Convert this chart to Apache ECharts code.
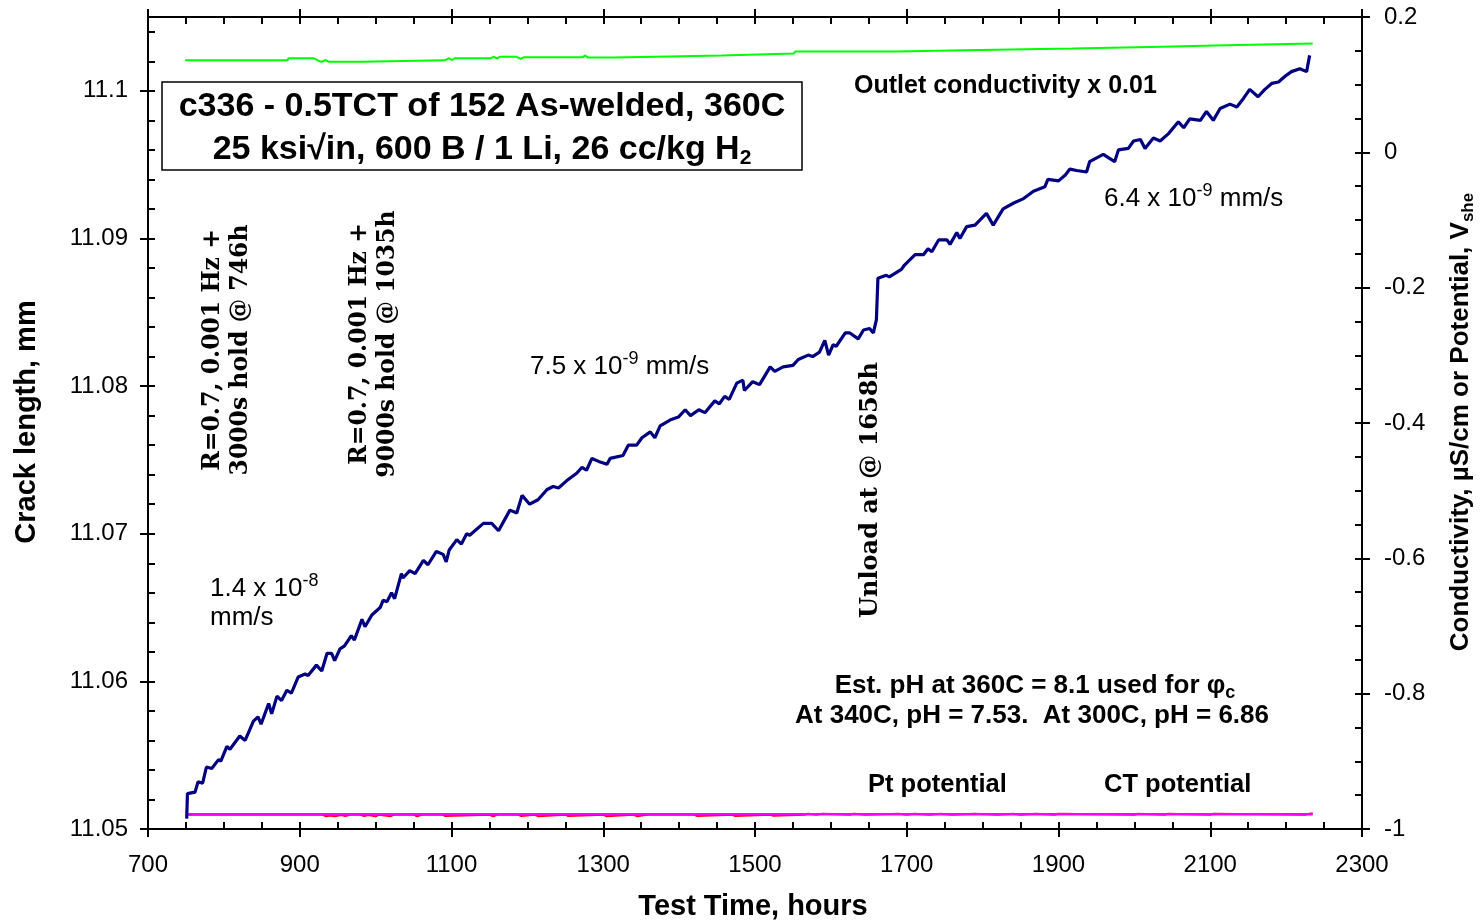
<!DOCTYPE html>
<html><head><meta charset="utf-8">
<script src="https://cdn.jsdelivr.net/npm/echarts@6/dist/echarts.min.js"></script>
<style>html,body{margin:0;padding:0;background:#fff}#c{width:1480px;height:924px}</style>
</head><body><div id="c"></div>
<script>
// ---- data ----
const crackHours = [751,752,762,766,772,777,784,793,796,804,808,821,828,839,845,849,859,863,870,876,883,889,898,907,911,922,929,936,942,946,953,959,968,972,982,986,995,1006,1010,1015,1021,1025,1034,1036,1045,1052,1063,1069,1080,1089,1093,1097,1107,1113,1120,1124,1142,1153,1162,1177,1186,1193,1203,1214,1226,1234,1241,1252,1265,1272,1278,1285,1294,1305,1309,1326,1333,1344,1351,1362,1368,1375,1388,1399,1408,1415,1426,1434,1447,1453,1460,1466,1476,1484,1486,1497,1506,1520,1526,1537,1550,1557,1570,1576,1585,1592,1597,1603,1607,1619,1625,1636,1643,1651,1656,1660,1662,1673,1677,1693,1697,1711,1722,1728,1733,1742,1753,1757,1766,1770,1779,1790,1805,1814,1827,1841,1854,1867,1882,1886,1900,1909,1915,1924,1937,1941,1959,1974,1979,1992,1999,2008,2014,2025,2034,2045,2058,2065,2073,2087,2095,2104,2113,2126,2135,2144,2152,2163,2172,2181,2190,2199,2207,2218,2227,2231];
const crackMm = [11.0507,11.0524,11.0525,11.0532,11.0531,11.0542,11.0541,11.0547,11.0546,11.0556,11.0554,11.0563,11.0560,11.0573,11.0576,11.0571,11.0585,11.0578,11.0590,11.0587,11.0594,11.0592,11.0603,11.0605,11.0604,11.0611,11.0607,11.0619,11.0619,11.0614,11.0622,11.0624,11.0631,11.0628,11.0642,11.0637,11.0645,11.0650,11.0655,11.0654,11.0660,11.0656,11.0673,11.0670,11.0675,11.0673,11.0682,11.0679,11.0688,11.0686,11.0681,11.0689,11.0696,11.0693,11.0700,11.0699,11.0707,11.0707,11.0702,11.0716,11.0714,11.0726,11.0720,11.0723,11.0730,11.0732,11.0731,11.0736,11.0741,11.0745,11.0743,11.0751,11.0749,11.0747,11.0751,11.0753,11.0760,11.0760,11.0765,11.0769,11.0765,11.0773,11.0777,11.0779,11.0784,11.0780,11.0784,11.0782,11.0790,11.0788,11.0793,11.0791,11.0802,11.0804,11.0797,11.0803,11.0801,11.0813,11.0810,11.0813,11.0814,11.0818,11.0821,11.0820,11.0823,11.0831,11.0821,11.0828,11.0827,11.0836,11.0836,11.0832,11.0838,11.0839,11.0836,11.0845,11.0873,11.0875,11.0874,11.0879,11.0882,11.0889,11.0889,11.0893,11.0891,11.0899,11.0899,11.0896,11.0904,11.0900,11.0908,11.0909,11.0917,11.0909,11.0920,11.0924,11.0927,11.0932,11.0935,11.0940,11.0939,11.0943,11.0947,11.0946,11.0945,11.0952,11.0957,11.0952,11.0960,11.0961,11.0966,11.0967,11.0961,11.0968,11.0966,11.0971,11.0979,11.0975,11.0981,11.0980,11.0986,11.0980,11.0988,11.0991,11.0989,11.0995,11.1001,11.0996,11.1001,11.1005,11.1006,11.1010,11.1013,11.1015,11.1013,11.1024];

const condHours = [749,884,885,919,925,929,934,938,982,983,1091,1097,1101,1104,1152,1155,1160,1164,1185,1191,1196,1273,1276,1280,1286,1315,1317,1456,1458,1551,1553,1594,1596,1598,1686,1688,1777,1779,1918,1920,2021,2023,2121,2123,2235];
const condVal = [0.1360,0.1360,0.1390,0.1390,0.1350,0.1339,0.1364,0.1339,0.1339,0.1360,0.1360,0.1390,0.1364,0.1390,0.1390,0.1413,0.1390,0.1413,0.1413,0.1380,0.1407,0.1407,0.1432,0.1400,0.1403,0.1403,0.1431,0.1431,0.1459,0.1459,0.1489,0.1489,0.1470,0.1489,0.1489,0.1510,0.1510,0.1533,0.1533,0.1557,0.1557,0.1583,0.1583,0.1607,0.1607];

const ptHours = [750,1000,1250,1500,1750,2000,2235];
const ptVal = [-0.9783,-0.9783,-0.9783,-0.9783,-0.9783,-0.9783,-0.9783];

const ctHours = [750,870,872,875,930,935,940,946,955,960,966,980,985,990,1000,1004,1020,1024,1050,1055,1060,1088,1092,1150,1155,1160,1188,1192,1210,1214,1250,1254,1300,1304,1340,1345,1355,1360,1420,1424,1470,1474,1520,1524,1565,1570,1580,1590,1625,1630,1645,1690,1700,1710,1730,1745,1760,1790,1820,1840,1850,1870,1895,1900,2000,2004,2040,2044,2100,2104,2225,2232,2235];
const ctVal = [-0.9790,-0.9790,-0.9808,-0.9790,-0.9790,-0.9812,-0.9800,-0.9812,-0.9795,-0.9810,-0.9790,-0.9790,-0.9810,-0.9795,-0.9812,-0.9790,-0.9810,-0.9790,-0.9790,-0.9812,-0.9790,-0.9790,-0.9808,-0.9790,-0.9812,-0.9790,-0.9790,-0.9808,-0.9790,-0.9810,-0.9790,-0.9808,-0.9790,-0.9810,-0.9790,-0.9812,-0.9795,-0.9790,-0.9790,-0.9808,-0.9790,-0.9808,-0.9790,-0.9806,-0.9790,-0.9775,-0.9790,-0.9775,-0.9790,-0.9775,-0.9790,-0.9775,-0.9790,-0.9775,-0.9790,-0.9775,-0.9790,-0.9775,-0.9790,-0.9775,-0.9790,-0.9775,-0.9790,-0.9775,-0.9790,-0.9776,-0.9790,-0.9776,-0.9790,-0.9776,-0.9790,-0.9772,-0.9772];

const xTicks = {min: 700, max: 2300, interval: 200};
const yLeft = {min: 11.05, max: 11.105, interval: 0.01};
const yRight = {min: -1, max: 0.2, interval: 0.2};

// ---- chart ----
const zip = (a, b) => a.map((v, i) => [v, b[i]]);
const FONT = 'Liberation Sans';
const SERIF = 'DejaVu Serif';
const chart = echarts.init(document.getElementById('c'), null, {renderer: 'canvas'});
const line = {show: true, onZero: false, lineStyle: {color: '#000', width: 2}};
const noLine = {show: false, onZero: false};
const noLab = {show: false};
const G = {left: 148, right: 118, top: 17, bottom: 95};

function xAx(pos, inside, interval, len, showLine, showLabel) {
  return {type: 'value', position: pos, min: xTicks.min, max: xTicks.max, interval: interval,
    axisLine: showLine ? line : noLine, splitLine: {show: false},
    axisTick: {show: true, inside: inside, length: len, lineStyle: {color: '#000', width: 2}},
    axisLabel: showLabel ? {show: true, margin: 24, fontFamily: FONT, fontSize: 24, color: '#000', formatter: v => String(v)} : noLab};
}
function yAx(pos, inside, cfg, interval, len, showLine, showLabel, fmt) {
  return {type: 'value', position: pos, min: cfg.min, max: cfg.max, interval: interval,
    axisLine: showLine ? line : noLine, splitLine: {show: false},
    axisTick: {show: true, inside: inside, length: len, lineStyle: {color: '#000', width: 2}},
    axisLabel: showLabel ? {show: true, margin: pos === 'left' ? 20 : 22, fontFamily: FONT, fontSize: 24, color: '#000',
      showMaxLabel: pos === 'left' ? false : true, formatter: fmt} : noLab};
}

const txt = (x, y, text, o) => Object.assign({type: 'text', x: x, y: y, z: 100,
  style: Object.assign({text: text, fontFamily: FONT, fontSize: 26, fill: '#000', align: 'left', verticalAlign: 'middle'}, o || {})});
const supRich = {sup: {fontSize: 18, padding: [0, 0, 16, 0], fontFamily: FONT}};

chart.setOption({
  animation: false,
  backgroundColor: '#fff',
  grid: G,
  xAxis: [
    xAx('bottom', false, 200, 8, true, true),
    xAx('bottom', true, 50, 7, false, false),
    xAx('top', true, 50, 7, true, false),
    xAx('top', false, 200, 8, false, false)
  ],
  yAxis: [
    yAx('left', false, yLeft, yLeft.interval, 8, true, true, v => String(parseFloat(v.toFixed(3)))),
    yAx('left', true, yLeft, 0.002, 7, false, false),
    yAx('right', false, yRight, yRight.interval, 8, true, true, v => (Math.abs(v) < 1e-9 ? '0' : String(Math.round(v * 10) / 10))),
    yAx('right', true, yRight, 0.05, 7, false, false)
  ],
  series: [
    {type: 'line', name: 'Outlet conductivity x 0.01', xAxisIndex: 0, yAxisIndex: 2, data: zip(condHours, condVal),
      showSymbol: false, lineStyle: {color: '#00ff00', width: 2}, z: 3},
    {type: 'line', name: 'CT potential', xAxisIndex: 0, yAxisIndex: 2, data: zip(ctHours, ctVal),
      showSymbol: false, lineStyle: {color: '#ff0000', width: 2}, z: 3},
    {type: 'line', name: 'Pt potential', xAxisIndex: 0, yAxisIndex: 2, data: zip(ptHours, ptVal),
      showSymbol: false, lineStyle: {color: '#ff00ff', width: 2.5}, z: 4},
    {type: 'line', name: 'Crack length', xAxisIndex: 0, yAxisIndex: 0, data: zip(crackHours, crackMm),
      showSymbol: false, lineStyle: {color: '#000080', width: 3.2}, z: 5}
  ],
  graphic: [
    {type: 'rect', shape: {x: 162, y: 82, width: 640, height: 88}, style: {fill: '#fff', stroke: '#000', lineWidth: 1.5}, z: 99},
    txt(482, 107, 'c336 - 0.5TCT of 152 As-welded, 360C', {fontSize: 34, fontWeight: 'bold', align: 'center'}),
    txt(482, 150, '25 ksi\u221Ain, 600 B / 1 Li, 26 cc/kg H{s|2}', {fontSize: 34, fontWeight: 'bold', align: 'center',
      rich: {s: {fontSize: 21, fontWeight: 'bold', padding: [16, 0, 0, 0], fontFamily: FONT}}}),
    txt(854, 86, 'Outlet conductivity x 0.01', {fontWeight: 'bold', fontSize: 25}),
    txt(1104, 199, '6.4 x 10{sup|-9} mm/s', {rich: supRich}),
    txt(530, 367, '7.5 x 10{sup|-9} mm/s', {rich: supRich}),
    txt(210, 589, '1.4 x 10{sup|-8}', {rich: supRich}),
    txt(210, 618, 'mm/s'),
    {type: 'text', x: 227, y: 350, rotation: Math.PI / 2, z: 100,
      style: {text: 'R=0.7, 0.001 Hz +\n3000s hold @ 746h', fontFamily: SERIF, fontWeight: 'bold', fontSize: 23.5, lineHeight: 28, fill: '#000', align: 'center', verticalAlign: 'middle'}},
    {type: 'text', x: 374, y: 344, rotation: Math.PI / 2, z: 100,
      style: {text: 'R=0.7, 0.001 Hz +\n9000s hold @ 1035h', fontFamily: SERIF, fontWeight: 'bold', fontSize: 23.5, lineHeight: 28, fill: '#000', align: 'center', verticalAlign: 'middle'}},
    {type: 'text', x: 871, y: 490, rotation: Math.PI / 2, z: 100,
      style: {text: 'Unload at @ 1658h', fontFamily: SERIF, fontWeight: 'bold', fontSize: 24, fill: '#000', align: 'center', verticalAlign: 'middle'}},
    txt(1035, 686, 'Est. pH at 360C = 8.1 used for \u03C6{s|c}', {fontWeight: 'bold', align: 'center',
      rich: {s: {fontSize: 18, fontWeight: 'bold', padding: [14, 0, 0, 0], fontFamily: FONT}}}),
    txt(1032, 716, 'At 340C, pH = 7.53.  At 300C, pH = 6.86', {fontWeight: 'bold', align: 'center'}),
    txt(868, 785, 'Pt potential', {fontWeight: 'bold', fontSize: 25.5}),
    txt(1104, 785, 'CT potential', {fontWeight: 'bold', fontSize: 25.5}),
    txt(753, 907, 'Test Time, hours', {fontWeight: 'bold', fontSize: 29, align: 'center'}),
    {type: 'text', x: 27, y: 422, rotation: Math.PI / 2, z: 100,
      style: {text: 'Crack length, mm', fontFamily: FONT, fontWeight: 'bold', fontSize: 29, fill: '#000', align: 'center', verticalAlign: 'middle'}},
    {type: 'text', x: 1461, y: 422, rotation: Math.PI / 2, z: 100,
      style: {text: 'Conductivity, \u00B5S/cm or Potential, V{s|she}', fontFamily: FONT, fontWeight: 'bold', fontSize: 26, fill: '#000', align: 'center', verticalAlign: 'middle',
        rich: {s: {fontSize: 17, fontWeight: 'bold', padding: [14, 0, 0, 0], fontFamily: FONT}}}}
  ]
});
</script>
</body></html>
